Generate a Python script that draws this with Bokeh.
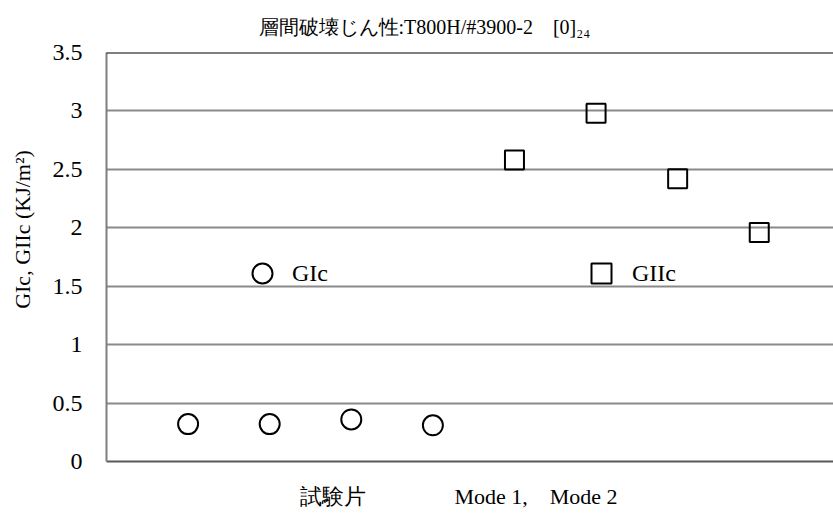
import math
from bokeh.plotting import figure
from bokeh.models import Range1d, Span, Legend, LegendItem, FixedTicker
from bokeh.embed import file_html
from bokeh.resources import INLINE

# ---- data ----
specimens_mode1 = [1, 2, 3, 4]
gic_values = [0.32, 0.32, 0.36, 0.31]
specimens_mode2 = [5, 6, 7, 8]
giic_values = [2.58, 2.98, 2.42, 1.96]
y_ticks = [0, 0.5, 1, 1.5, 2, 2.5, 3, 3.5]
y_tick_labels = ["0", "0.5", "1", "1.5", "2", "2.5", "3", "3.5"]
title_text = "層間破壊じん性:T800H/#3900-2\u2002\u2002[0]₂₄"
y_label = "GIc, GIIc (KJ/m²)"
x_label = "試験片\u3000\u3000\u3000\u3000Mode 1,\u2002\u2002Mode 2"
series_names = ["GIc", "GIIc"]

FONT = "Liberation Serif"

p = figure(width=833, height=521, x_range=Range1d(0, 8.91), y_range=Range1d(0, 3.5),
           output_backend="svg", toolbar_location=None,
           min_border_left=106, min_border_right=0, min_border_top=52, min_border_bottom=60)
p.outline_line_color = None
p.background_fill_color = "white"
p.border_fill_color = "white"

# title
p.title.text = title_text
p.title.align = "left"
p.title.vertical_align = "top"
p.title.offset = 152
p.title.text_font = FONT
p.title.text_font_size = "20px"
p.title.text_font_style = "normal"
p.title.text_color = "black"
p.title.standoff = 26

# axes
p.xaxis.ticker = FixedTicker(ticks=[])
p.xaxis.axis_line_color = "#595959"
p.xaxis.axis_line_width = 2
p.xaxis.major_tick_line_color = None
p.xaxis.minor_tick_line_color = None
p.xaxis.major_tick_out = 0
p.xaxis.major_label_text_font_size = "0px"
p.xaxis.axis_label = x_label + "\u2002\u2002"
p.xaxis.axis_label_text_font = FONT
p.xaxis.axis_label_text_font_size = "22px"
p.xaxis.axis_label_text_font_style = "normal"
p.xaxis.axis_label_text_color = "black"
p.xaxis.axis_label_standoff = 22

p.yaxis.ticker = FixedTicker(ticks=y_ticks)
p.yaxis.major_label_overrides = {t: l for t, l in zip(y_ticks, y_tick_labels)}
p.yaxis.axis_line_color = "#7f7f7f"
p.yaxis.axis_line_width = 2
p.yaxis.major_tick_line_color = None
p.yaxis.minor_tick_line_color = None
p.yaxis.major_tick_out = 0
p.yaxis.major_label_standoff = 24
p.yaxis.major_label_text_font = FONT
p.yaxis.major_label_text_font_size = "24px"
p.yaxis.major_label_text_color = "black"
p.yaxis.axis_label = "\u2002" * 5 + y_label
p.yaxis.axis_label_text_font = FONT
p.yaxis.axis_label_text_font_size = "22px"
p.yaxis.axis_label_text_font_style = "normal"
p.yaxis.axis_label_text_color = "black"
p.yaxis.axis_label_standoff = 15

p.xgrid.visible = False
p.ygrid.ticker = FixedTicker(ticks=y_ticks)
p.ygrid.grid_line_color = "#8a8a8a"
p.ygrid.grid_line_width = 2

p.add_layout(Span(location=3.5, dimension="width", line_color="black", line_width=2))

r1 = p.scatter(specimens_mode1, gic_values, marker="circle", size=20,
               fill_color=None, line_color="black", line_width=2)
r2 = p.scatter(specimens_mode2, giic_values, marker="square", size=19,
               fill_color=None, line_color="black", line_width=2)

def make_legend(name, r, loc, standoff):
    lg = Legend(items=[LegendItem(label=name, renderers=[r])], location=loc,
                glyph_width=50, glyph_height=50, padding=0, margin=0, spacing=0,
                label_standoff=standoff, border_line_color=None,
                background_fill_alpha=0, label_text_font=FONT,
                label_text_font_size="24px", label_text_color="black")
    p.add_layout(lg, "center")

make_legend(series_names[0], r1, (131, 163), 5)
make_legend(series_names[1], r2, (470, 163), 6)

open("out.html", "w").write(file_html(p, INLINE))
